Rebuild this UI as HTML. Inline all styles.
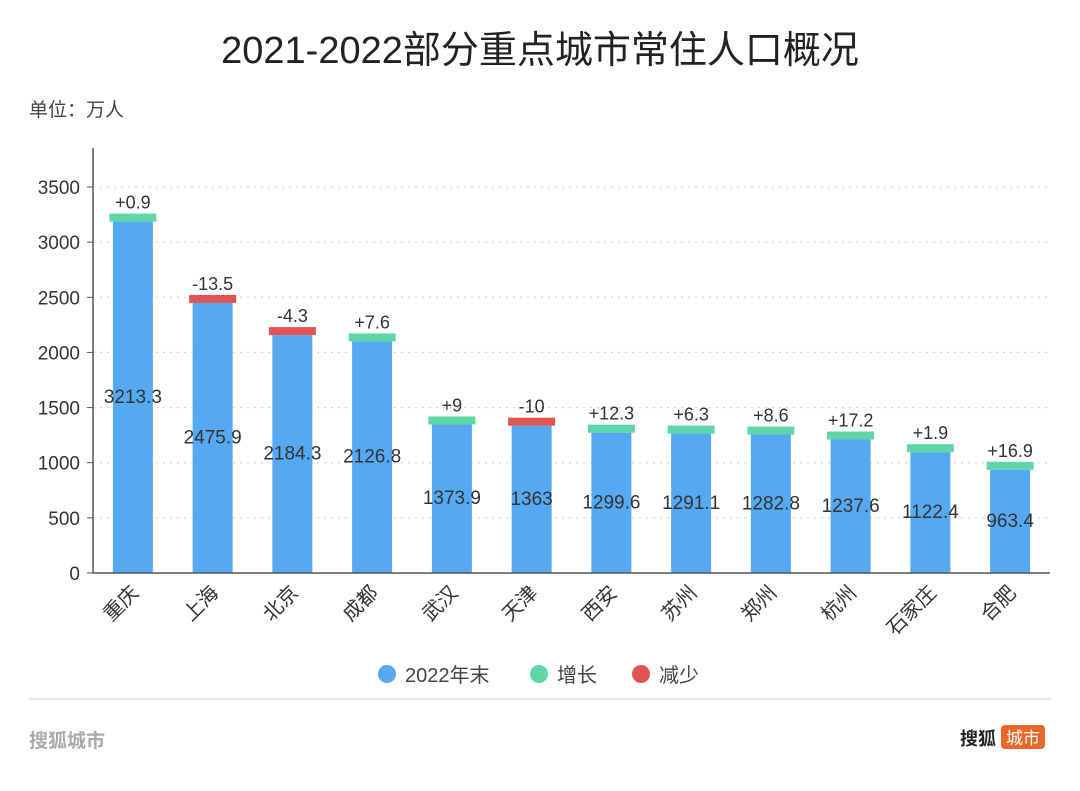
<!DOCTYPE html>
<html><head><meta charset="utf-8"><style>
body{margin:0;background:#fff;width:1080px;height:786px;overflow:hidden;font-family:"Liberation Sans","Noto Sans CJK SC",sans-serif;}
svg text{font-family:"Liberation Sans","Noto Sans CJK SC",sans-serif;}
</style></head><body>
<svg id="c" width="1080" height="786">
<text x="540" y="63" text-anchor="middle" font-size="38" fill="#222">2021-2022部分重点城市常住人口概况</text>
<text x="29" y="116" font-size="19" fill="#444">单位：万人</text>
<g id="grid"></g><g id="bars"></g><g id="axes"></g>
<g>
<circle cx="387" cy="674" r="9" fill="#55a9f2"/>
<text x="405" y="682" font-size="20" fill="#444">2022年末</text>
<circle cx="539" cy="674" r="9" fill="#5ed6a6"/>
<text x="557" y="682" font-size="20" fill="#444">增长</text>
<circle cx="641" cy="674" r="9" fill="#e25454"/>
<text x="659" y="682" font-size="20" fill="#444">减少</text>
</g>
<line x1="29" y1="699" x2="1051" y2="699" stroke="#ddd" stroke-width="1.5"/>
<text x="29" y="747" font-size="19" fill="#aaa" font-weight="bold">搜狐城市</text>
<text x="960" y="745" font-size="18" fill="#222" font-weight="bold">搜狐</text>
<rect x="1001" y="725" width="44" height="24" rx="4" fill="#e8672a"/>
<text x="1023" y="744" font-size="17" fill="#fff" text-anchor="middle">城市</text>
</svg>
<script>
const cities=["重庆","上海","北京","成都","武汉","天津","西安","苏州","郑州","杭州","石家庄","合肥"];
const values=[3213.3,2475.9,2184.3,2126.8,1373.9,1363,1299.6,1291.1,1282.8,1237.6,1122.4,963.4];
const changes=["+0.9","-13.5","-4.3","+7.6","+9","-10","+12.3","+6.3","+8.6","+17.2","+1.9","+16.9"];
const ticks=[0,500,1000,1500,2000,2500,3000,3500];
const NS="http://www.w3.org/2000/svg";
const x0=93,x1=1050,y0=573,band=(x1-x0)/cities.length;
const y=v=>y0-v*(573-187)/3500;
const xc=i=>x0+band*(i+0.5);
function mk(t,a,p){const e=document.createElementNS(NS,t);for(const k in a)e.setAttribute(k,a[k]);document.getElementById(p).appendChild(e);return e;}
ticks.forEach((t,i)=>{
 if(t>0){const g=mk('line',{x1:x0,x2:x1,y1:y(t),y2:y(t),stroke:'#ccc','stroke-dasharray':'2,5'},'grid');
 
 }
 const tk=mk('line',{x1:x0-6,x2:x0,y1:y(t),y2:y(t),stroke:'#555'},'axes');
 
 
 const l=mk('text',{x:80,y:y(t)+7,'text-anchor':'end','font-size':19,fill:'#333'},'axes');l.textContent=t;
 
 
});
const ya=mk('line',{x1:x0,x2:x0,y1:148,y2:y0,stroke:'#555','stroke-width':1.5},'axes');


const xa=mk('line',{x1:x0,x2:x1,y1:y0,y2:y0,stroke:'#555','stroke-width':1.5},'axes');


cities.forEach((c,i)=>{
 const cx=xc(i),yt=y(values[i]);
 const b=mk('rect',{x:cx-20,y:yt+3,width:40,height:y0-yt-3,fill:'#55a9f2'},'bars');
 
 
 const neg=changes[i][0]==='-';
 const cap=mk('rect',{x:cx-23.5,y:yt-5,width:47,height:8,fill:neg?'#e25454':'#5ed6a6'},'bars');
 
 
 const cl=mk('text',{x:cx,y:yt-10,'text-anchor':'middle','font-size':18,fill:'#333'},'bars');cl.textContent=changes[i];
 
 
 const vl=mk('text',{x:cx,y:(yt+y0)/2+7,'text-anchor':'middle','font-size':19,fill:'#333'},'bars');vl.textContent=values[i];
 
 
 const xl=mk('text',{x:cx+7,y:594,'text-anchor':'end','font-size':20,fill:'#333',transform:`rotate(-45 ${cx+7} 594)`},'axes');xl.textContent=c;
 
 
});
</script>
</body></html>
